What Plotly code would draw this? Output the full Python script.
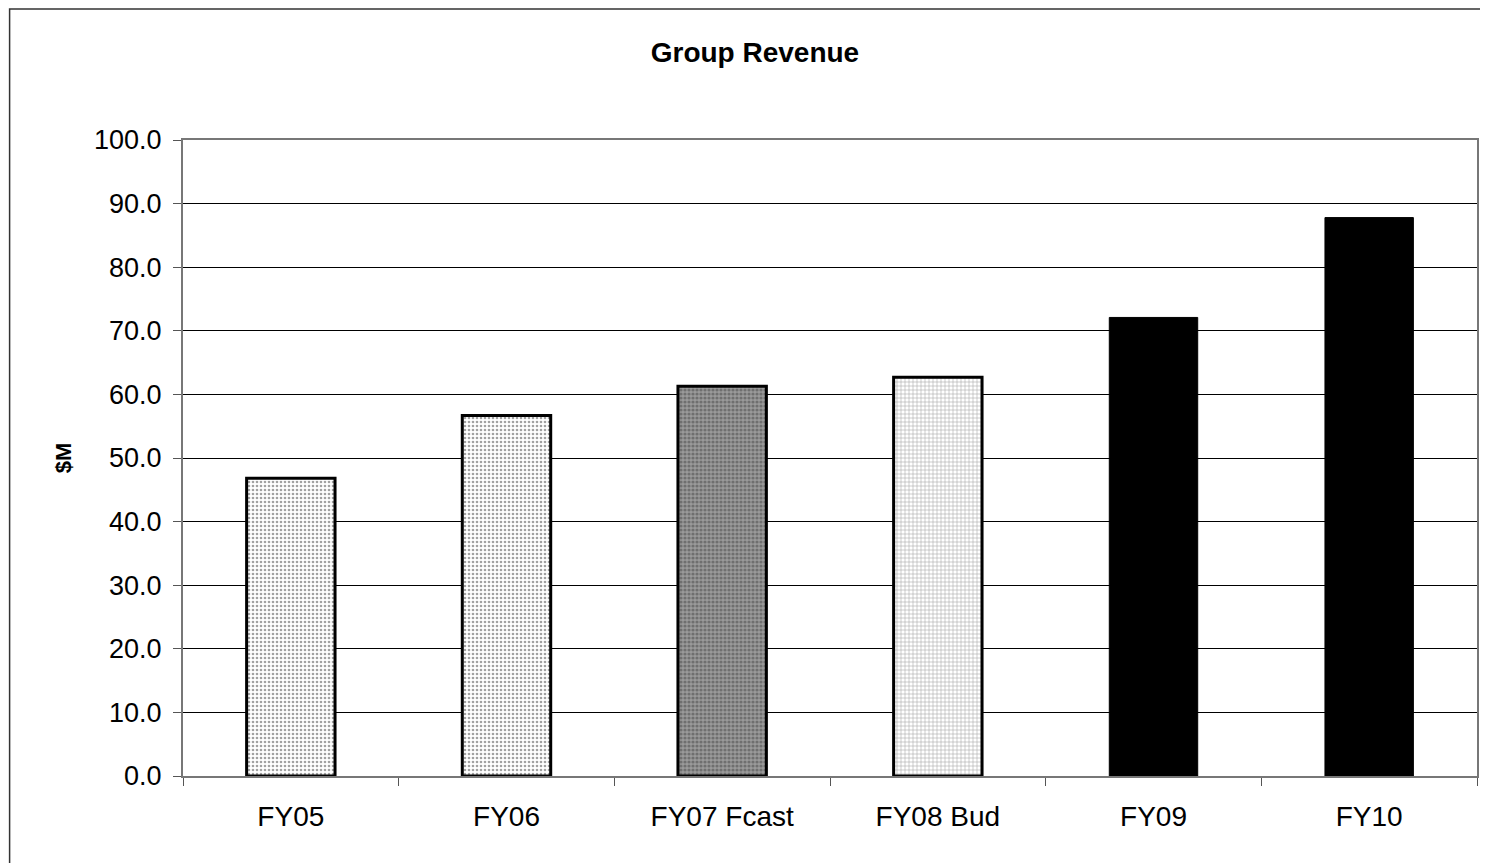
import plotly.graph_objects as go

# data
years = ["FY05", "FY06", "FY07 Fcast", "FY08 Bud", "FY09", "FY10"]
revenue = [46.8, 56.7, 61.3, 62.7, 72.1, 87.8]
y_ticks = [0, 10, 20, 30, 40, 50, 60, 70, 80, 90, 100]

# per-bar fill style (Excel-like hatching)
shapes_ = [".", ".", ".", "+", "", ""]
fg = ["#444444", "#444444", "#000000", "#777777", "#000000", "#000000"]
bg = ["#ffffff", "#ffffff", "#9a9a9a", "#ffffff", "#000000", "#000000"]
solid = [0.35, 0.35, 0.5, 0.25, 0.3, 0.3]
edge_w = [3, 3, 3, 3, 1, 1]

FONT = "Liberation Sans, Arial, sans-serif"

fig = go.Figure()
fig.add_trace(go.Bar(
    x=years, y=revenue,
    marker=dict(
        color=bg,
        line=dict(color="black", width=edge_w),
        pattern=dict(shape=shapes_, fgcolor=fg, bgcolor=bg,
                     size=4, solidity=solid, fillmode="overlay"),
    ),
    hoverinfo="x+y",
    showlegend=False,
))

# page body adds an 8px margin, so the figure is 8px smaller than the window
fig.update_layout(
    width=1480, height=855,
    paper_bgcolor="white", plot_bgcolor="white",
    margin=dict(l=175, r=9, t=132, b=87),
    bargap=0.59,
    font=dict(family=FONT, color="black", size=27),
    title=dict(text="<b>Group Revenue</b>", x=0.442, xref="paper",
               y=1 - 44 / 855, yref="container", xanchor="center",
               yanchor="middle", font=dict(size=28, family=FONT)),
    shapes=[dict(type="rect", xref="paper", yref="paper",
                 x0=-0.134, x1=1.05, y0=-0.3, y1=1.206,
                 line=dict(color="#333333", width=1.5), layer="below")],
)

fig.update_xaxes(
    showgrid=False, ticks="outside", tickson="boundaries", ticklen=8,
    tickcolor="#555555", showline=True, linecolor="#777777", linewidth=2,
    mirror=True, tickfont=dict(size=28), ticklabelstandoff=14,
)
fig.update_yaxes(
    range=[0, 100], tickvals=y_ticks, tickformat=".1f",
    showgrid=True, gridcolor="black", gridwidth=1,
    ticks="outside", ticklen=8, tickcolor="#555555",
    showline=True, linecolor="#777777", linewidth=2, mirror=True,
    zeroline=False, tickfont=dict(size=27), ticklabelstandoff=6,
    title=dict(text="<b>$M</b>", font=dict(size=22), standoff=16),
)

fig.write_html("out.html")
